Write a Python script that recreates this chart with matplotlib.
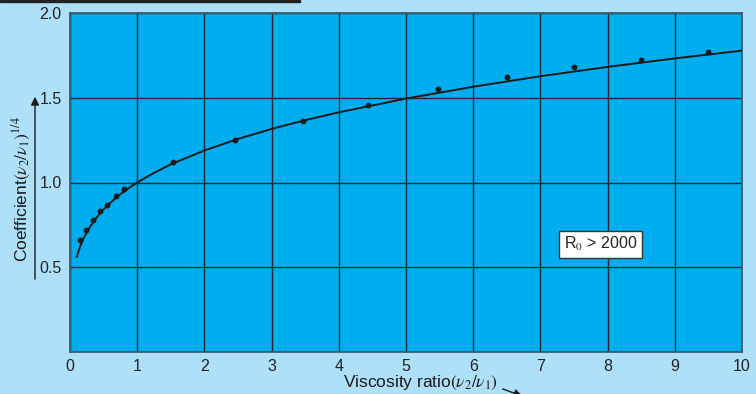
import matplotlib.pyplot as plt
import matplotlib.patches as mpatches

plt.rcParams['font.family'] = ['Liberation Sans', 'DejaVu Sans']
plt.rcParams['mathtext.fontset'] = 'stix'

# smooth curve
curve_x = [0.1, 0.15, 0.2, 0.3, 0.4, 0.5, 0.6, 0.7, 0.8, 0.9, 1.0, 1.25, 1.5, 2.0, 2.5,
           3.0, 3.5, 4.0, 5.0, 6.0, 7.0, 8.0, 9.0, 10.0]
curve_y = [0.562, 0.622, 0.669, 0.740, 0.795, 0.841, 0.880, 0.915, 0.946, 0.974, 1.0,
           1.057, 1.107, 1.189, 1.257, 1.316, 1.368, 1.414, 1.495, 1.565, 1.627, 1.682,
           1.732, 1.778]

# measured points
pts_x = [0.15, 0.24, 0.34, 0.45, 0.55, 0.68, 0.81, 1.53, 2.46, 3.46, 4.44, 5.48, 6.5, 7.5, 8.5, 9.5]
pts_y = [0.66, 0.72, 0.78, 0.83, 0.865, 0.92, 0.96, 1.12, 1.25, 1.365, 1.46, 1.55, 1.62, 1.68, 1.725, 1.77]

x_ticks = [0, 1, 2, 3, 4, 5, 6, 7, 8, 9, 10]
y_ticks = [0.5, 1.0, 1.5, 2.0]

bg = '#aee0f9'
panel = '#00adee'

fig = plt.figure(figsize=(7.56, 3.94), dpi=100, facecolor=bg)
ax = fig.add_axes([70 / 756, 42 / 394, 672 / 756, 339 / 394])
ax.set_facecolor(panel)

ax.plot(curve_x, curve_y, color='#1a1a1a', linewidth=1.4, zorder=3)
ax.plot(pts_x, pts_y, 'o', color='#1a1a1a', markersize=3.2, zorder=4)

ax.set_xlim(0, 10)
ax.set_ylim(0, 2.0)
ax.set_xticks(x_ticks)
ax.set_yticks(y_ticks)
ax.set_yticklabels(['%.1f' % v for v in y_ticks])
ax.grid(True, color='#1b2a33', linewidth=1.0)
ax.set_axisbelow(True)
ax.tick_params(length=0, labelsize=11.5, colors='#222222')
ax.tick_params(axis='x', pad=5)
ax.tick_params(axis='y', pad=6)
for s in ax.spines.values():
    s.set_color('#3d5d6e')
    s.set_linewidth(1.3)

ax.set_xlabel(r'Viscosity ratio$(\nu_2/\nu_1)$', fontsize=12.5, color='#1a1a1a')
ax.set_ylabel(r'Coefficient$(\nu_2/\nu_1)^{1/4}$', fontsize=12.5, color='#1a1a1a')
ax.xaxis.set_label_coords(0.522, -0.064)
ax.yaxis.set_label_coords(-0.055, 0.48)

ax.text(7.9, 0.635, r'R$_0$ > 2000', fontsize=11.5, color='#222222',
        ha='center', va='center',
        bbox=dict(boxstyle='square,pad=0.3', facecolor='white', edgecolor='#333333', linewidth=1))

# arrows next to the axis labels
fig.add_artist(mpatches.FancyArrowPatch((35 / 756, 1 - 282 / 394), (35 / 756, 1 - 94 / 394),
                                        transform=fig.transFigure, arrowstyle='-|>',
                                        mutation_scale=12, color='#1a1a1a', linewidth=1))
fig.add_artist(mpatches.FancyArrowPatch((500 / 756, 1 - 388 / 394), (525 / 756, 1 - 397 / 394),
                                        transform=fig.transFigure, arrowstyle='-|>',
                                        mutation_scale=12, color='#1a1a1a', linewidth=1))
fig.add_artist(mpatches.Rectangle((0, 1 - 1.5 / 394), 300 / 756, 1.5 / 394,
                                  transform=fig.transFigure, color='#222222'))

fig.savefig('out.png', dpi=100, facecolor=bg)
